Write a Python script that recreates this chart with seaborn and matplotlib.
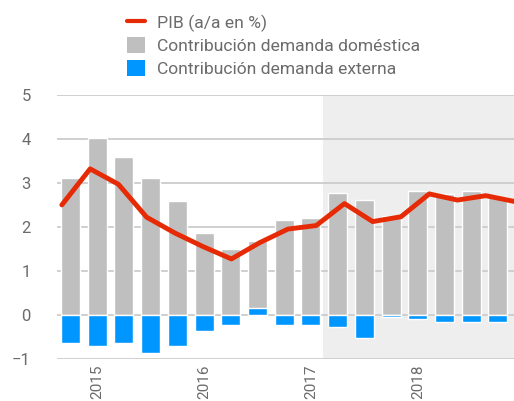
import numpy as np
import matplotlib
matplotlib.use("Agg")
import matplotlib.pyplot as plt
from matplotlib.lines import Line2D
from matplotlib.patches import Patch
import seaborn as sns

# quarterly data, 2014Q4 .. 2018Q4
quarters = ["2014T4",
            "2015T1", "2015T2", "2015T3", "2015T4",
            "2016T1", "2016T2", "2016T3", "2016T4",
            "2017T1", "2017T2", "2017T3", "2017T4",
            "2018T1", "2018T2", "2018T3", "2018T4"]
domestic = [3.12, 4.03, 3.60, 3.12, 2.58, 1.85, 1.49, 1.67, 2.15,
            2.21, 2.76, 2.62, 2.25, 2.81, 2.75, 2.81, 2.68]
external = [-0.64, -0.71, -0.64, -0.88, -0.70, -0.36, -0.24, 0.15, -0.24,
            -0.24, -0.29, -0.53, -0.04, -0.10, -0.17, -0.17, -0.17]
pib = [2.50, 3.32, 2.97, 2.22, 1.86, 1.55, 1.27, 1.64, 1.95,
       2.03, 2.53, 2.12, 2.23, 2.75, 2.61, 2.71, 2.58]
year_ticks = [1, 5, 9, 13]
year_labels = ["2015", "2016", "2017", "2018"]
forecast_start = 9.45

RED = "#e62a05"
GREY = "#bfbfbf"
BLUE = "#0096ff"
TEXT = "#6b6b6b"

sns.set_theme(style="white")
plt.rcParams["font.family"] = ["Roboto", "DejaVu Sans"]
plt.rcParams["text.color"] = TEXT

fig = plt.figure(figsize=(5.14, 4.01), dpi=100)
ax = fig.add_axes([0.111, 0.1055, 0.889, 0.6575])

ax.axvspan(forecast_start, 16.7, color="#eeeeee", zorder=0, lw=0)

sns.barplot(x=quarters, y=domestic, color=GREY, saturation=1, width=0.71, ax=ax, zorder=2)
sns.barplot(x=quarters, y=external, color=BLUE, saturation=1, width=0.71, ax=ax, zorder=2)

ax.set_xlim(-0.5, 16.6)
ax.set_ylim(-1, 5)
ax.set_yticks(range(-1, 6))
ax.set_xticks(year_ticks)
ax.set_xticklabels(year_labels, rotation=90)
ax.set_xlabel("")
ax.set_ylabel("")
ax.set_axisbelow(True)
ax.grid(axis="y", color="#cccccc", linewidth=1.3)
ax.grid(axis="x", visible=False)
for s in ax.spines.values():
    s.set_visible(False)
ax.tick_params(axis="y", length=0, pad=19, labelsize=12, labelcolor=TEXT)
ax.tick_params(axis="x", length=0, pad=4, labelsize=11, labelcolor=TEXT)

# GDP line lives on its own x scale (spans to the right edge)
ax2 = ax.twiny()
sns.lineplot(x=np.arange(len(pib)), y=pib, color=RED, linewidth=3.5, ax=ax2, zorder=3)
ax2.set_xlim(-0.17, 16)
ax2.set_xticks([])
ax2.grid(False)
for s in ax2.spines.values():
    s.set_visible(False)

handles = [Line2D([0], [0], color=RED, lw=3),
           Patch(facecolor=GREY, edgecolor="none"),
           Patch(facecolor=BLUE, edgecolor="none")]
labels = ["PIB (a/a en %)", "Contribución demanda doméstica", "Contribución demanda externa"]
fig.legend(handles, labels, loc="upper left", bbox_to_anchor=(120 / 514, 1 - 7 / 401),
           frameon=False, fontsize=12.6, handlelength=1.05, handleheight=1.05,
           handletextpad=0.65, labelspacing=0.3, borderaxespad=0)

fig.savefig("out.png", dpi=100)
